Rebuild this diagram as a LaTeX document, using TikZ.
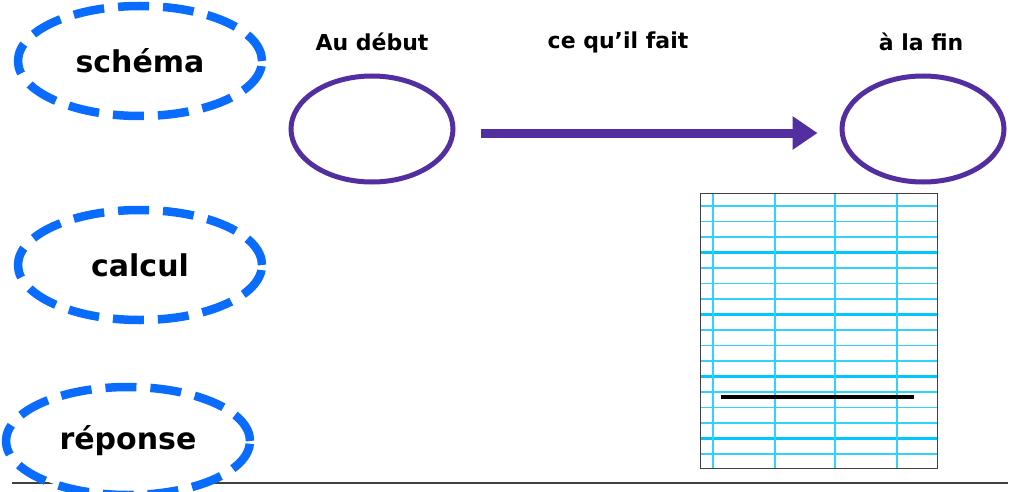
\documentclass[tikz,border=0pt]{standalone}
\usepackage{fontspec}
\setmainfont{DejaVu Sans}
\usetikzlibrary{arrows.meta,shapes.geometric}
\definecolor{dashblue}{RGB}{10,108,255}
\definecolor{ellpurple}{RGB}{82,46,160}
\definecolor{gridthin}{RGB}{50,210,255}
\definecolor{gridthick}{RGB}{0,200,255}
\tikzset{
  dashell/.style={ellipse, draw=dashblue, line width=8.5pt, dash pattern=on 31pt off 14pt, fill=white, inner sep=0pt, font=\bfseries\fontsize{30}{36}\selectfont},
  purpell/.style={ellipse, draw=ellpurple, line width=5pt, minimum width=162pt, minimum height=106pt, inner sep=0pt},
  header/.style={font=\bfseries\fontsize{22}{26}\selectfont},
  gthin/.style={draw=gridthin, line width=1.8pt},
  gthick/.style={draw=gridthick, line width=3.2pt}
}
\begin{document}
\begin{tikzpicture}[x=1pt,y=-1pt]
\useasboundingbox (0,0) rectangle (1011,492);
% bottom rule
\draw[line width=1.3pt, black!75] (12,483) -- (1008,483);
% labels on the left
\node[dashell, minimum width=244pt, minimum height=110pt] (schema) at (140,61) {schéma};
\node[dashell, minimum width=244pt, minimum height=110pt] (calcul) at (140,265) {\raisebox{-2pt}{calcul}};
\node[dashell, minimum width=244pt, minimum height=108pt] (reponse) at (128,441) {\raisebox{-3pt}{réponse}};
% headers
\node[header] (debut) at (372,42) {Au début};
\node[header] (fait) at (618,42) {ce qu’il fait};
\node[header] (fin) at (921,42) {à la fin};
% purple ellipses and arrow
\node[purpell] (start) at (372,129) {};
\node[purpell] (end) at (923,129) {};
\draw[ellpurple, line width=9pt, -{Triangle[length=25pt, width=32pt]}] ([xshift=25pt,yshift=-4pt]start.east) -- ([xshift=-22pt,yshift=-4pt]end.west);
% grid
\foreach \k in {0,...,16}{
  \pgfmathsetmacro{\yy}{206+15.5*\k}
  \pgfmathtruncatemacro{\m}{mod(\k,4)}
  \ifnum\m=3
    \draw[gthick] (700,\yy) -- (937,\yy);
  \else
    \draw[gthin] (700,\yy) -- (937,\yy);
  \fi
}
\foreach \x in {713,775,835,897}{
  \draw[gthin] (\x,193) -- (\x,468);
}
\node[draw=black!75, line width=1pt, minimum width=237pt, minimum height=275pt, inner sep=0pt, anchor=north west] (grid) at (700,193) {};
\coordinate (la) at (721,397);
\coordinate (lb) at (914,397);
\draw[black, line width=3.5pt] (la) -- (lb);
\end{tikzpicture}
\end{document}
